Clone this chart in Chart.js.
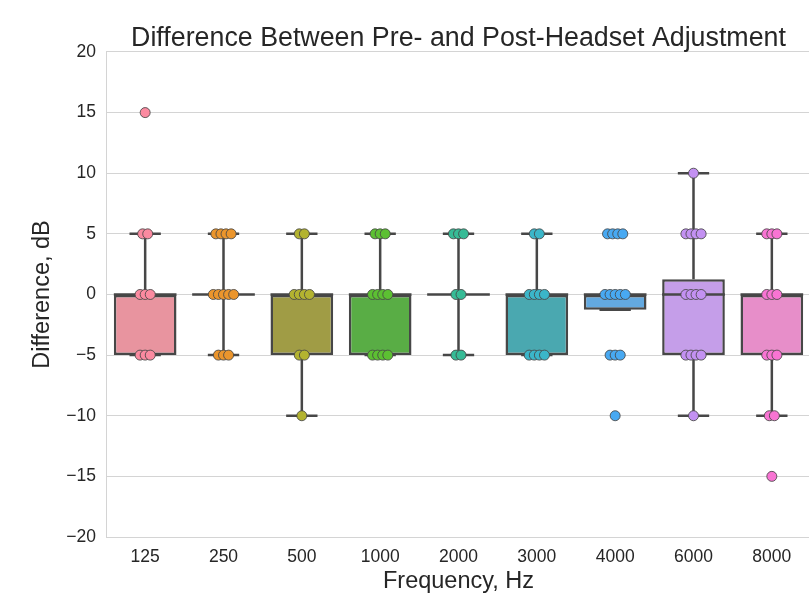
<!DOCTYPE html>
<html>
<head>
<meta charset="utf-8">
<script src="https://cdn.jsdelivr.net/npm/chart.js@4.4.0/dist/chart.umd.min.js"></script>
<style>
    html, body { margin: 0; padding: 0; background: #ffffff; overflow: hidden; }
    #wrap { width: 809px; height: 606px; overflow: hidden; }
</style>
</head>
<body>
<!-- canvas is wider than the window: the plot runs just past the right edge -->
<div id="wrap"><canvas id="boxChart" width="817" height="606"></canvas></div>
<script>
// categories and box summary
var frequencies = ['125', '250', '500', '1000', '2000', '3000', '4000', '6000', '8000'];
var q1 = [-5, 0, -5, -5, 0, -5, -1.25, -5, -5];
var medians = [0, 0, 0, 0, 0, 0, 0, 0, 0];
var q3 = [0, 0, 0, 0, 0, 0, 0, 1.25, 0];
var whiskerLow = [-5, -5, -10, -5, -5, -5, -1.25, -10, -10];
var whiskerHigh = [5, 5, 5, 5, 5, 5, 0, 10, 5];

// individual observations (dB) per frequency
var pts125 = [15, 5, 5, 0, 0, 0, -5, -5, -5];
var pts250 = [5, 5, 5, 5, 0, 0, 0, 0, 0, -5, -5, -5];
var pts500 = [5, 5, 0, 0, 0, 0, -5, -5, -10];
var pts1000 = [5, 5, 5, 0, 0, 0, 0, -5, -5, -5, -5];
var pts2000 = [5, 5, 5, 0, 0, -5, -5];
var pts3000 = [5, 5, 0, 0, 0, 0, -5, -5, -5, -5];
var pts4000 = [5, 5, 5, 5, 0, 0, 0, 0, 0, -5, -5, -5, -10];
var pts6000 = [10, 5, 5, 5, 5, 0, 0, 0, 0, -5, -5, -5, -5, -10];
var pts8000 = [5, 5, 5, 0, 0, 0, -5, -5, -5, -10, -10, -15];
var yTicks = [-20, -15, -10, -5, 0, 5, 10, 15, 20];

var points = [pts125, pts250, pts500, pts1000, pts2000, pts3000, pts4000, pts6000, pts8000];

var boxColors = ['#e8949f', '#d99a4e', '#a09c45', '#59ad45', '#3fb08f', '#4aa8b0', '#63a9e0', '#c59ee9', '#e78ec9'];
var dotColors = ['#fb8aa0', '#eb952c', '#b3b330', '#5cc032', '#36bb96', '#3bb6c9', '#48a9f2', '#c391f2', '#f874d3'];
var lineColor = '#474747';
var textColor = '#262626';
var gridColor = '#d4d4d4';
var fontFamily = "'Liberation Sans', Arial, sans-serif";

// helper: build a broken polyline (segments separated by null gaps)
function segments(list) {
    var out = [];
    list.forEach(function (s) {
        out.push({x: s[0], y: s[1]}, {x: s[2], y: s[3]}, {x: s[2], y: null});
    });
    return out;
}

var medianSegs = [], whiskerSegs = [], capSegs = [];
frequencies.forEach(function (f, i) {
    medianSegs.push([i - 0.4, medians[i], i + 0.4, medians[i]]);
    whiskerSegs.push([i, q3[i], i, whiskerHigh[i]]);
    whiskerSegs.push([i, q1[i], i, whiskerLow[i]]);
    capSegs.push([i - 0.2, whiskerHigh[i], i + 0.2, whiskerHigh[i]]);
    capSegs.push([i - 0.2, whiskerLow[i], i + 0.2, whiskerLow[i]]);
});

function lineSet(data) {
    return {
        type: 'scatter',
        data: segments(data),
        showLine: true,
        spanGaps: false,
        borderColor: lineColor,
        borderWidth: 2.5,
        borderCapStyle: 'butt',
        pointRadius: 0,
        order: 2
    };
}

// strip points: spread equal values a little sideways around the category
function stripData(values, i) {
    var counts = {}, seen = {};
    values.forEach(function (v) { counts[v] = (counts[v] || 0) + 1; });
    return values.map(function (v) {
        var k = seen[v] || 0;
        seen[v] = k + 1;
        return {x: i + (k - (counts[v] - 1) / 2) * 0.065, y: v};
    });
}

var datasets = [{
    type: 'bar',
    data: frequencies.map(function (f, i) { return {x: i, y: [q1[i], q3[i]]}; }),
    backgroundColor: boxColors,
    borderColor: lineColor,
    borderWidth: 2.5,
    borderSkipped: false,
    categoryPercentage: 0.8,
    barPercentage: 1,
    order: 3
}, lineSet(whiskerSegs), lineSet(capSegs), lineSet(medianSegs)];

points.forEach(function (vals, i) {
    datasets.push({
        type: 'scatter',
        data: stripData(vals, i),
        backgroundColor: dotColors[i],
        borderColor: 'rgba(70,70,70,0.85)',
        borderWidth: 1,
        pointRadius: 5,
        order: 1
    });
});

var ctx = document.getElementById('boxChart').getContext('2d');
var chart = new Chart(ctx, {
    type: 'scatter',
    data: {datasets: datasets},
    options: {
        responsive: false,
        animation: false,
        events: [],
        layout: {padding: 0},
        plugins: {
            legend: {display: false},
            tooltip: {enabled: false},
            title: {
                display: true,
                text: 'Difference Between Pre- and Post-Headset Adjustment',
                fullSize: false,
                color: textColor,
                font: {family: fontFamily, size: 26.8, weight: 'normal', lineHeight: 0.95},
                padding: {top: 26, bottom: 0.5}
            }
        },
        scales: {
            x: {
                type: 'linear',
                min: -0.5,
                max: 8.5,
                offset: false,
                afterFit: function (scale) {
                    scale.height = 69;
                    scale.paddingLeft = 0;
                    scale.paddingRight = 0;
                },
                afterBuildTicks: function (scale) {
                    scale.ticks = frequencies.map(function (f, i) { return {value: i}; });
                },
                ticks: {
                    color: textColor,
                    padding: 10,
                    font: {family: fontFamily, size: 17.5},
                    callback: function (v) { return frequencies[v]; }
                },
                grid: {display: false, drawTicks: false},
                border: {display: true, color: gridColor},
                title: {
                    display: true,
                    text: 'Frequency, Hz',
                    color: textColor,
                    font: {family: fontFamily, size: 23.5},
                    padding: {top: 0, bottom: 10}
                }
            },
            y: {
                min: -20,
                max: 20,
                afterFit: function (scale) { scale.width = 106; },
                afterBuildTicks: function (scale) {
                    scale.ticks = yTicks.map(function (v) { return {value: v}; });
                },
                ticks: {
                    color: textColor,
                    padding: 10,
                    font: {family: fontFamily, size: 17.5},
                    callback: function (v) { return v < 0 ? '\u2212' + Math.abs(v) : String(v); }
                },
                grid: {color: gridColor, lineWidth: 1, drawTicks: false},
                border: {display: true, color: gridColor},
                title: {
                    display: true,
                    text: 'Difference, dB',
                    color: textColor,
                    font: {family: fontFamily, size: 23.5},
                    padding: {top: 28, bottom: 0}
                }
            }
        }
    }
});
</script>
</body>
</html>
